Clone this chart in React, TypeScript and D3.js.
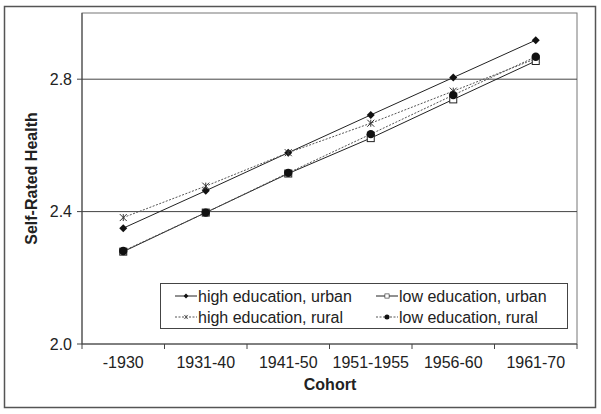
import React from "react";
import * as d3 from "d3";

const categories = ["-1930", "1931-40", "1941-50", "1951-1955", "1956-60", "1961-70"];
const highUrban = [2.35, 2.463, 2.578, 2.692, 2.805, 2.918];
const highRural = [2.382, 2.477, 2.578, 2.667, 2.764, 2.862];
const lowUrban = [2.279, 2.397, 2.515, 2.622, 2.739, 2.855];
const lowRural = [2.281, 2.397, 2.517, 2.634, 2.752, 2.868];
const yTicks = [2.0, 2.4, 2.8];
const seriesNames = ["high education, urban", "high education, rural", "low education, urban", "low education, rural"];

type Marker = "diamond" | "star" | "square" | "circle";
const series: { name: string; values: number[]; marker: Marker; dash: string | null }[] = [
  { name: seriesNames[0], values: highUrban, marker: "diamond", dash: null },
  { name: seriesNames[1], values: highRural, marker: "star", dash: "2,1.5" },
  { name: seriesNames[2], values: lowUrban, marker: "square", dash: null },
  { name: seriesNames[3], values: lowRural, marker: "circle", dash: "2,1.5" },
];

const W = 601, H = 414;
const left = 82, right = 577, top = 13, bottom = 344;
const font = "Liberation Sans, Arial, sans-serif";

function MarkerShape({ type, x, y }: { type: Marker; x: number; y: number }) {
  if (type === "diamond") {
    const s = 4;
    return <path d={`M${x},${y - s}L${x + s},${y}L${x},${y + s}L${x - s},${y}Z`} fill="#111" />;
  }
  if (type === "square") {
    return <rect x={x - 3.5} y={y - 3.5} width={7} height={7} fill="#fff" stroke="#222" strokeWidth={1} />;
  }
  if (type === "circle") {
    return <circle cx={x} cy={y} r={4.2} fill="#111" />;
  }
  const s = 3.5;
  return (
    <g stroke="#333" strokeWidth={1}>
      <line x1={x - s} y1={y - s} x2={x + s} y2={y + s} />
      <line x1={x - s} y1={y + s} x2={x + s} y2={y - s} />
      <line x1={x} y1={y - s} x2={x} y2={y + s} />
    </g>
  );
}

export default function App() {
  const x = d3.scaleBand<string>().domain(categories).range([left, right]);
  const y = d3.scaleLinear().domain([2.0, 3.0]).range([bottom, top]);
  const cx = (c: string) => (x(c) as number) + x.bandwidth() / 2;

  const line = d3
    .line<number>()
    .x((_, i) => cx(categories[i]))
    .y((v) => y(v));

  const boundaries = categories.map((c) => x(c) as number).concat([right]);

  const legendX = 160, legendY = 283, legendW = 407, legendH = 45;
  const legendPos = [
    { lx: 175, ly: 296 },
    { lx: 175, ly: 317 },
    { lx: 376, ly: 296 },
    { lx: 376, ly: 317 },
  ];

  return (
    <svg width={W} height={H} style={{ position: "absolute", left: 0, top: 0 }} fontFamily={font}>
      <rect x={0} y={0} width={W} height={H} fill="#fff" />
      <rect x={4.5} y={6.5} width={591} height={401} fill="none" stroke="#555" strokeWidth={1.5} />
      {/* plot area frame */}
      <rect x={left} y={top} width={right - left} height={bottom - top} fill="none" stroke="#777" strokeWidth={1} />
      {/* gridlines */}
      {yTicks.slice(1).map((t) => (
        <line key={t} x1={left} x2={right} y1={y(t)} y2={y(t)} stroke="#444" strokeWidth={1} />
      ))}
      {/* axes */}
      <line x1={left} x2={left} y1={top} y2={bottom} stroke="#444" />
      <line x1={left} x2={right} y1={bottom} y2={bottom} stroke="#444" />
      {yTicks.map((t) => (
        <g key={t}>
          <line x1={left - 5} x2={left} y1={y(t)} y2={y(t)} stroke="#444" />
          <text x={left - 10} y={y(t)} dy="0.35em" textAnchor="end" fontSize={16} fill="#222">
            {t.toFixed(1)}
          </text>
        </g>
      ))}
      {boundaries.map((b, i) => (
        <line key={i} x1={b} x2={b} y1={bottom} y2={bottom + 5} stroke="#444" />
      ))}
      {categories.map((c) => (
        <text key={c} x={cx(c)} y={368} textAnchor="middle" fontSize={16} fill="#222">
          {c}
        </text>
      ))}
      <text x={330} y={390} textAnchor="middle" fontSize={16} fontWeight="bold" fill="#222">
        Cohort
      </text>
      <text
        transform={`translate(37, ${(top + bottom) / 2}) rotate(-90)`}
        textAnchor="middle"
        fontSize={16}
        fontWeight="bold"
        fill="#222"
      >
        Self-Rated Health
      </text>
      {/* series lines */}
      {series.map((s) => (
        <path
          key={s.name}
          d={line(s.values) as string}
          fill="none"
          stroke={s.dash ? "#555" : "#222"}
          strokeWidth={1}
          strokeDasharray={s.dash ?? undefined}
        />
      ))}
      {series.map((s) =>
        s.values.map((v, i) => <MarkerShape key={s.name + i} type={s.marker} x={cx(categories[i])} y={y(v)} />)
      )}
      {/* legend */}
      <rect x={legendX + 0.5} y={legendY + 0.5} width={legendW} height={legendH} fill="#fff" stroke="#444" />
      {series.map((s, i) => {
        const p = legendPos[i];
        return (
          <g key={s.name}>
            <line
              x1={p.lx}
              x2={p.lx + 22}
              y1={p.ly}
              y2={p.ly}
              stroke={s.dash ? "#555" : "#222"}
              strokeDasharray={s.dash ?? undefined}
            />
            <g transform={`translate(${p.lx + 11},${p.ly}) scale(0.6) translate(${-(p.lx + 11)},${-p.ly})`}>
              <MarkerShape type={s.marker} x={p.lx + 11} y={p.ly} />
            </g>
            <text x={p.lx + 23} y={p.ly} dy="0.35em" fontSize={16} fill="#222">
              {s.name}
            </text>
          </g>
        );
      })}
    </svg>
  );
}
